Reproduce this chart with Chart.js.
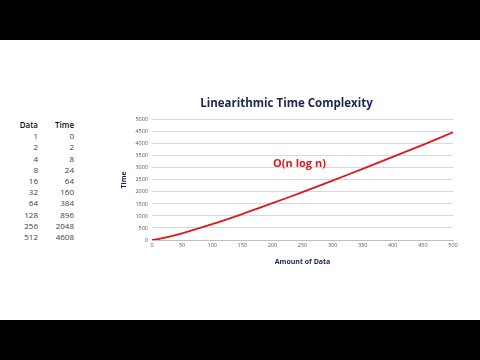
<!DOCTYPE html>
<html lang="en">
<head>
    <meta charset="UTF-8">
    <title>Linearithmic Time Complexity</title>
    <script src="https://cdn.jsdelivr.net/npm/chart.js"></script>
    <style>
        body { margin: 0; width: 480px; height: 360px; background: #fff; position: relative; overflow: hidden; font-family: "Open Sans", sans-serif; }
        .bar { position: absolute; left: 0; width: 480px; height: 40px; background: #000; }
        #table { position: absolute; left: 14px; top: 119px; border-collapse: collapse; font-size: 8px; color: #404040; }
        #table td, #table th { text-align: right; padding: 0; height: 11.2px; line-height: 11.2px; }
        #table th { font-weight: 600; color: #111; }
        #table .c1 { width: 24px; }
        #table .c2 { width: 36px; }
        #wrap { position: absolute; left: 120px; top: 90px; width: 350px; height: 180px; }
    </style>
</head>
<body>
    <div class="bar" style="top:0"></div>
    <div class="bar" style="top:320px"></div>

    <table id="table"></table>

    <div id="wrap"><canvas id="chart" width="350" height="180"></canvas></div>

    <script>
        // table on the left
        var tableData = [1, 2, 4, 8, 16, 32, 64, 128, 256, 512];
        var tableTime = [0, 2, 8, 24, 64, 160, 384, 896, 2048, 4608];

        // curve
        var amount = [0, 10, 25, 50, 100, 150, 200, 250, 300, 350, 400, 450, 500];
        var time = [0, 33, 115, 280, 660, 1080, 1530, 1990, 2470, 2960, 3460, 3960, 4480];

        var html = '<tr><th class="c1">Data</th><th class="c2">Time</th></tr>';
        for (var i = 0; i < tableData.length; i++) {
            html += '<tr><td class="c1">' + tableData[i] + '</td><td class="c2">' + tableTime[i] + '</td></tr>';
        }
        document.getElementById('table').innerHTML = html;

        var navy = '#1a2452';
        var tickFont = { family: 'Open Sans', size: 5.5 };

        // red label inside the plot
        var labelPlugin = {
            id: 'bigO',
            afterDatasetsDraw: function(chart) {
                var c = chart.ctx;
                var x = chart.scales.x.getPixelForValue(245);
                var y = chart.scales.y.getPixelForValue(3160);
                c.save();
                c.fillStyle = '#e3161b';
                c.font = 'bold 11px "Open Sans"';
                c.textAlign = 'center';
                c.textBaseline = 'middle';
                c.fillText('O(n log n)', x, y);
                c.restore();
            }
        };

        var ctx = document.getElementById('chart').getContext('2d');
        var chart = new Chart(ctx, {
            type: 'line',
            data: {
                datasets: [{
                    data: amount.map(function(a, i) { return { x: a, y: time[i] }; }),
                    borderColor: '#e3161b',
                    borderWidth: 1.8,
                    pointRadius: 0,
                    tension: 0.4,
                    fill: false
                }]
            },
            options: {
                responsive: false,
                animation: false,
                layout: { padding: { right: 17, top: 0 } },
                plugins: {
                    legend: { display: false },
                    tooltip: { enabled: false },
                    title: {
                        display: true,
                        text: 'Linearithmic Time Complexity',
                        color: navy,
                        font: { family: 'Open Sans', size: 11.5, weight: 'bold' },
                        padding: { top: 7, bottom: 9 }
                    }
                },
                scales: {
                    x: {
                        type: 'linear',
                        min: 0, max: 500,
                        ticks: { stepSize: 50, font: tickFont, color: '#595959', maxRotation: 0, padding: 2,
                                 callback: function(v) { return String(v); } },
                        grid: { display: false, drawTicks: false },
                        border: { color: '#bfbfbf' },
                        title: { display: true, text: 'Amount of Data', color: navy, font: { family: 'Open Sans', size: 7, weight: 'bold' }, padding: { top: 3 } },
                        afterFit: function(s) { s.height = 30; }
                    },
                    y: {
                        min: 0, max: 5000,
                        ticks: { stepSize: 500, font: tickFont, color: '#595959', padding: 4,
                                 callback: function(v) { return String(v); } },
                        grid: { color: '#d9d9d9', drawTicks: false },
                        border: { display: false },
                        title: { display: true, text: 'Time', color: navy, font: { family: 'Open Sans', size: 7, weight: 'bold' }, padding: 0 },
                        afterFit: function(s) { s.width = 32; }
                    }
                }
            },
            plugins: [labelPlugin]
        });
    </script>
</body>
</html>
